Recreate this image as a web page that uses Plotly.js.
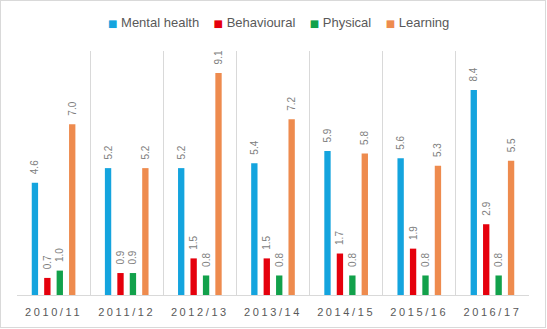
<!DOCTYPE html>
<html>
<head>
<meta charset="utf-8">
<script src="https://cdn.plot.ly/plotly-3.0.1.min.js"></script>
<style>
  html, body { margin: 0; padding: 0; background: #fff; overflow: hidden; }
  #chart { width: 544px; height: 326px; border: 1px solid #d9d9d9; box-sizing: content-box; }
  .xtick text { letter-spacing: 2.6px; }
</style>
</head>
<body>
<div id="chart"></div>
<script>
const categories = ["2010/11", "2011/12", "2012/13", "2013/14", "2014/15", "2015/16", "2016/17"];
const seriesNames = ["Mental health", "Behavioural", "Physical", "Learning"];
const mentalHealth = [4.6, 5.2, 5.2, 5.4, 5.9, 5.6, 8.4];
const behavioural  = [0.7, 0.9, 1.5, 1.5, 1.7, 1.9, 2.9];
const physical     = [1.0, 0.9, 0.8, 0.8, 0.8, 0.8, 0.8];
const learning     = [7.0, 5.2, 9.1, 7.2, 5.8, 5.3, 5.5];
const seriesColors = ["#14a4de", "#e5000c", "#12a14b", "#ee8b4e"];

const seriesValues = [mentalHealth, behavioural, physical, learning];

const traces = seriesValues.map((vals, i) => ({
  type: "bar",
  name: seriesNames[i],
  x: categories,
  y: vals,
  marker: { color: seriesColors[i] },
  texttemplate: "\u00A0\u00A0%{y:.1f}",
  textposition: "outside",
  textangle: -90,
  constraintext: "none",
  cliponaxis: false,
  textfont: { family: "Liberation Sans, Arial, sans-serif", size: 10, color: "#808080" },
  showlegend: false,
  hoverinfo: "skip"
}));

const legendText = seriesNames.map((n, i) =>
  '<span style="color:' + seriesColors[i] + '; font-family:DejaVu Sans; font-size:10px">\u25A0</span>\u00A0' + n
).join("\u00A0\u00A0\u00A0\u00A0");

const layout = {
  width: 544,
  height: 326,
  margin: { l: 16, r: 16, t: 50, b: 32 },
  paper_bgcolor: "#ffffff",
  plot_bgcolor: "#ffffff",
  font: { family: "Liberation Sans, Arial, sans-serif", color: "#595959" },
  barmode: "group",
  bargap: 0.32,
  bargroupgap: 0.49,
  showlegend: false,
  xaxis: {
    type: "category",
    tickson: "boundaries",
    showgrid: true,
    gridcolor: "#d9d9d9",
    gridwidth: 1,
    showline: true,
    linecolor: "#d9d9d9",
    linewidth: 1,
    ticks: "",
    ticklabelstandoff: 7,
    tickfont: { family: "Liberation Sans, Arial, sans-serif", size: 11, color: "#595959" },
    fixedrange: true
  },
  yaxis: {
    range: [0, 10],
    showgrid: false,
    zeroline: false,
    showticklabels: false,
    ticks: "",
    showline: false,
    fixedrange: true
  },
  annotations: [{
    xref: "paper", yref: "paper",
    x: 0.51, y: 1.116,
    xanchor: "center", yanchor: "middle",
    showarrow: false,
    text: legendText,
    font: { family: "Liberation Sans, Arial, sans-serif", size: 13, color: "#595959" }
  }]
};

Plotly.newPlot("chart", traces, layout, { staticPlot: true, displayModeBar: false });
</script>
</body>
</html>
